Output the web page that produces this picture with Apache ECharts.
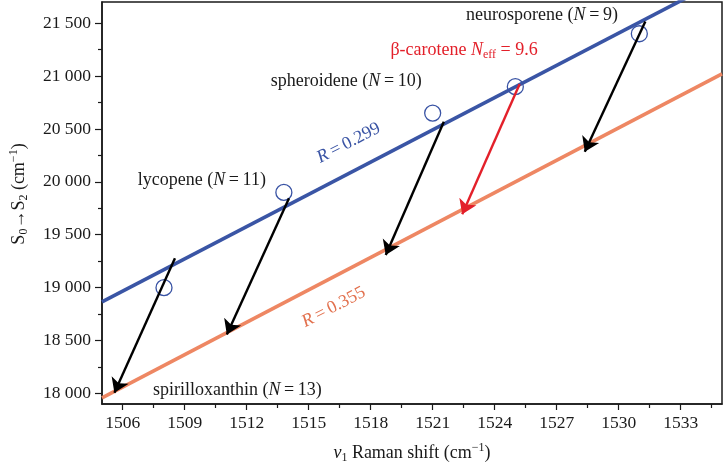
<!DOCTYPE html>
<html>
<head>
<meta charset="utf-8">
<script src="https://cdn.jsdelivr.net/npm/echarts@6/dist/echarts.min.js"></script>
<style>html,body{margin:0;padding:0;background:#fff}#c{width:725px;height:472px}</style>
</head>
<body>
<div id="c"></div>
<script>
// ---- data ----
const xMin = 1505, xMax = 1535;
const yMin = 17900, yMax = 21700;
const xTicks = [1506, 1509, 1512, 1515, 1518, 1521, 1524, 1527, 1530, 1533];
const xMinorTicks = [1507.5, 1510.5, 1513.5, 1516.5, 1519.5, 1522.5, 1525.5, 1528.5, 1531.5, 1534.5];
const yTicks = [18000, 18500, 19000, 19500, 20000, 20500, 21000, 21500];
const yMinorTicks = [18250, 18750, 19250, 19750, 20250, 20750, 21250];
const yTickLabels = ['18 000', '18 500', '19 000', '19 500', '20 000', '20 500', '21 000', '21 500'];

// measured carotenoids (open circles)
const ramanShift = [1508, 1513.8, 1521, 1525, 1531];
const s2Energy = [19000, 19900, 20650, 20900, 21400];

// fitted lines
const fitX = [1505, 1535];
const blueFitY = [18866, 21914];
const orangeFitY = [17958, 21020];

// arrows
const arrowStartX = [1508.53, 1514.05, 1521.54, 1525.21, 1531.29];
const arrowStartY = [19277, 19845, 20569, 20924, 21515];
const arrowEndX = [1505.6, 1511.04, 1518.73, 1522.43, 1528.36];
const arrowEndY = [18006, 18558, 19308, 19693, 20285];
const arrowColors = ['#000', '#000', '#000', '#e3202a', '#000'];

// annotations
const annText = [
  'neurosporene ({i|N}\u2009=\u20099)',
  'β-carotene {i|N}{sub|eff} = 9.6',
  'spheroidene ({i|N}\u2009=\u200910)',
  'lycopene ({i|N}\u2009=\u200911)',
  'spirilloxanthin ({i|N}\u2009=\u200913)',
  '{i|R}\u2009=\u20090.299',
  '{i|R}\u2009=\u20090.355'
];
const annX = [1526.29, 1522.52, 1516.82, 1509.83, 1511.55, 1516.94, 1516.21];
const annY = [21579, 21247, 20954, 20018, 18031, 20368, 18816];
const annColor = ['#1a1a1a', '#e3202a', '#1a1a1a', '#1a1a1a', '#1a1a1a', '#3953a4', '#e2704d'];
const annRotate = [0, 0, 0, 0, 0, 27.4, 27.4];

// ---- chart ----
const FONT = 'Liberation Serif';
const TXT = '#1a1a1a';
const chart = echarts.init(document.getElementById('c'), null, {renderer: 'canvas'});

function richFor(color) {
  return {
    i: {fontStyle: 'italic', fontFamily: FONT, fontSize: 18, color: color, textBorderWidth: 0},
    sub: {fontFamily: FONT, fontSize: 12, color: color, padding: [10, 0, 0, 0], textBorderWidth: 0}
  };
}

const fitLine = (ys) => fitX.map((x, k) => [x, ys[k]]);

const option = {
  animation: false,
  backgroundColor: '#fff',
  grid: {left: 101, right: 3, top: 2, bottom: 68, show: true, borderColor: TXT, borderWidth: 1.5, backgroundColor: 'transparent'},
  xAxis: [{
    type: 'value', min: xMin, max: xMax,
    splitLine: {show: false},
    axisLine: {show: true, onZero: false, lineStyle: {color: TXT, width: 1.5}},
    axisTick: {show: true, inside: false, length: 6, lineStyle: {color: TXT, width: 1.2}, customValues: xTicks},
    axisLabel: {customValues: xTicks, margin: 10, fontFamily: FONT, fontSize: 17.5, color: TXT,
      formatter: v => String(v)},
    name: '{i|ν}{sub|1} Raman shift (cm{sup|−1})',
    nameLocation: 'middle', nameGap: 38,
    nameTextStyle: {fontFamily: FONT, fontSize: 18, color: TXT,
      rich: {
        i: {fontStyle: 'italic', fontFamily: FONT, fontSize: 18, color: TXT},
        sub: {fontFamily: FONT, fontSize: 12, color: TXT, padding: [10, 0, 0, 0]},
        sup: {fontFamily: FONT, fontSize: 12, color: TXT, padding: [0, 0, 10, 0]}
      }}
  }, {
    type: 'value', min: xMin, max: xMax, position: 'bottom',
    splitLine: {show: false},
    axisLine: {show: false, onZero: false},
    axisTick: {show: true, inside: false, length: 4, lineStyle: {color: TXT, width: 1.2}, customValues: xMinorTicks},
    axisLabel: {show: false}
  }],
  yAxis: [{
    type: 'value', min: yMin, max: yMax,
    splitLine: {show: false},
    axisLine: {show: true, onZero: false, lineStyle: {color: TXT, width: 1.5}},
    axisTick: {show: true, inside: false, length: 7, lineStyle: {color: TXT, width: 1.2}, customValues: yTicks},
    axisLabel: {customValues: yTicks, margin: 11, fontFamily: FONT, fontSize: 17.5, color: TXT,
      formatter: v => { const k = yTicks.indexOf(v); return k >= 0 ? yTickLabels[k] : ''; }},
    name: 'S{sub|0}→S{sub|2} (cm{sup|−1})',
    nameLocation: 'middle', nameGap: 72, nameRotate: 90,
    nameTextStyle: {fontFamily: FONT, fontSize: 18, color: TXT, padding: [0, 0, 0, 18],
      rich: {
        sub: {fontFamily: FONT, fontSize: 12, color: TXT, padding: [10, 0, 0, 0]},
        sup: {fontFamily: FONT, fontSize: 12, color: TXT, padding: [0, 0, 10, 0]}
      }}
  }, {
    type: 'value', min: yMin, max: yMax, position: 'left',
    splitLine: {show: false},
    axisLine: {show: false, onZero: false},
    axisTick: {show: true, inside: false, length: 4, lineStyle: {color: TXT, width: 1.2}, customValues: yMinorTicks},
    axisLabel: {show: false}
  }],
  series: [
    {
      name: 'fit R=0.299', type: 'line', data: fitLine(blueFitY), showSymbol: false, clip: true,
      lineStyle: {color: '#3a55a5', width: 3.6}, z: 2, silent: true
    },
    {
      name: 'fit R=0.355', type: 'line', data: fitLine(orangeFitY), showSymbol: false, clip: true,
      lineStyle: {color: '#ee8763', width: 3.6}, z: 2, silent: true
    },
    {
      name: 'measured', type: 'scatter', data: ramanShift.map((x, k) => [x, s2Energy[k]]),
      symbol: 'circle', symbolSize: 16,
      itemStyle: {color: 'transparent', borderColor: '#3953a4', borderWidth: 1.3, opacity: 1}, z: 3
    },
    {
      name: 'arrows', type: 'lines', coordinateSystem: 'cartesian2d',
      symbol: ['none', 'arrow'], symbolSize: [4, 14],
      data: arrowStartX.map((x, k) => ({
        coords: [[x, arrowStartY[k]], [arrowEndX[k], arrowEndY[k]]],
        lineStyle: {color: arrowColors[k]}
      })),
      lineStyle: {width: 2.4, opacity: 1, curveness: 0}, z: 4
    },
    {
      name: 'annotations', type: 'scatter', symbolSize: 1, silent: true, z: 5,
      itemStyle: {color: 'transparent', borderWidth: 0, opacity: 1},
      data: annX.map((x, k) => ({
        value: [x, annY[k]],
        label: {
          show: true, position: 'inside', formatter: annText[k], rotate: annRotate[k],
          align: 'center', verticalAlign: 'middle', opacity: 1,
          color: annColor[k], fontFamily: FONT, fontSize: 18, rich: richFor(annColor[k]),
          textBorderWidth: 0, textBorderColor: 'transparent', textShadowBlur: 0
        }
      }))
    }
  ]
};
chart.setOption(option);
</script>
</body>
</html>
